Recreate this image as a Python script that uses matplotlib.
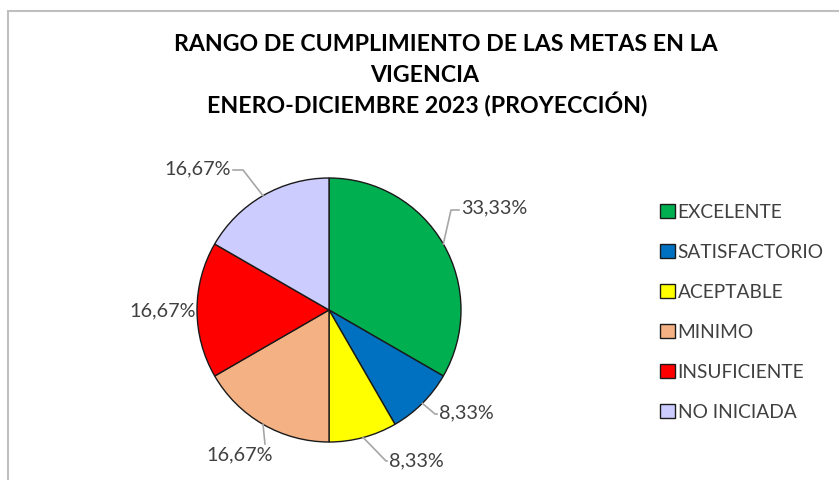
import matplotlib

matplotlib.use("Agg")
import matplotlib.pyplot as plt
import numpy as np
from matplotlib.patches import Rectangle

# data
categories = ["EXCELENTE", "SATISFACTORIO", "ACEPTABLE", "MINIMO",
              "INSUFICIENTE", "NO INICIADA"]
counts = [4, 1, 1, 2, 2, 2]
pct_labels = ["33,33%", "8,33%", "8,33%", "16,67%", "16,67%", "16,67%"]
colors = ["#00B050", "#0070C0", "#FFFF00", "#F4B183", "#FF0000", "#CCCCFF"]

title_lines = ["RANGO DE CUMPLIMIENTO DE LAS METAS EN LA", "VIGENCIA",
               "ENERO-DICIEMBRE 2023 (PROYECCIÓN)"]

W, H = 839, 481
fig = plt.figure(figsize=(W / 100, H / 100), dpi=100)
ax = fig.add_axes([0, 0, 1, 1])

# faint chart frame (left/top edges visible)
ax.add_patch(Rectangle((8, -10), W + 20, H - 12 + 10, fill=False,
                       ec="#BFBFBF", lw=1.5))

cx, cy, r = 329, H - 311, 132
wedges, _ = ax.pie(counts, colors=colors, startangle=90, counterclock=False,
                   center=(cx, cy), radius=r, frame=True,
                   wedgeprops=dict(edgecolor="#1a1a1a", linewidth=1.0))
ax.set_xlim(0, W)
ax.set_ylim(0, H)
ax.set_aspect("equal")
ax.axis("off")

# label placement: (text x, text y, ha, elbow point or None) in pixel coords
label_pos = [
    (461, 208, "left", (451, 211)),
    (439, 413, "left", (435, 415)),
    (389, 461, "left", (386, 462)),
    (240, 455, "center", (265, 445)),
    (196, 311, "right", None),
    (231, 169, "right", (243, 171)),
]
lead = "#A6A6A6"
for w, lab, (tx, ty, ha, elbow) in zip(wedges, pct_labels, label_pos):
    mid = np.deg2rad((w.theta1 + w.theta2) / 2)
    ex, ey = cx + r * np.cos(mid), cy + r * np.sin(mid)
    if elbow is not None:
        bx, by = elbow[0], H - elbow[1]
        if ha == "center":
            ax.plot([ex, bx], [ey, by], color=lead, lw=1.2)
        else:
            end = tx - 2 if ha == "left" else tx + 2
            ax.plot([ex, bx, end], [ey, by, by], color=lead, lw=1.2)
    ax.text(tx, H - ty, lab, ha=ha, va="center", fontsize=14.3,
            family="Lato", color="#404040")

# title lines (Excel wrapped them with slightly different centres)
title_x = [446, 425, 427]
for i, (line, x) in enumerate(zip(title_lines, title_x)):
    fig.text(x / W, 1 - (45 + 30 * i) / H, line, ha="center", va="center",
             fontsize=16.7, family="Lato", fontweight="bold", color="#000000")

ax.legend(wedges, categories, loc="upper left",
          bbox_to_anchor=(643 / W, 1 - 187 / H), bbox_transform=fig.transFigure,
          frameon=False, handlelength=0.75, handleheight=0.75, handletextpad=0.15,
          labelspacing=1.2, prop=dict(family="Lato", size=13.8),
          labelcolor="#404040")

fig.savefig("out.png", dpi=100)
